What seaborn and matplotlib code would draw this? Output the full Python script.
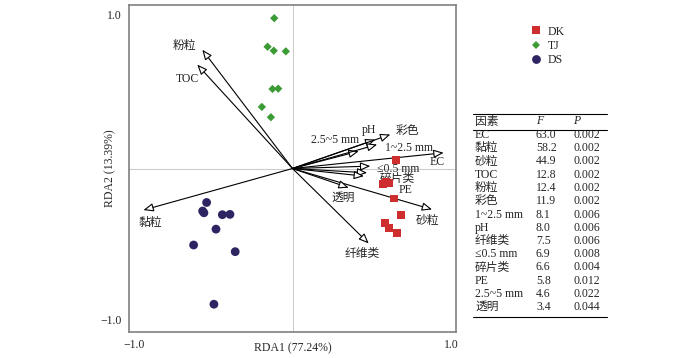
import numpy as np
import pandas as pd
import matplotlib
matplotlib.use('Agg')
import matplotlib.pyplot as plt
import seaborn as sns

sns.set_style('white')
plt.rcParams['font.family'] = ['Liberation Serif', 'Noto Sans CJK SC']
plt.rcParams['axes.unicode_minus'] = True

# sample scores (RDA1, RDA2)
dk_x = [0.654, 0.57, 0.59, 0.61, 0.64, 0.681, 0.585, 0.606, 0.658]
dk_y = [0.052, -0.095, -0.082, -0.09, -0.189, -0.291, -0.342, -0.373, -0.409]
tj_x = [-0.115, -0.157, -0.118, -0.042, -0.126, -0.09, -0.193, -0.136]
tj_y = [0.947, 0.767, 0.742, 0.738, 0.501, 0.503, 0.388, 0.323]
ds_x = [-0.541, -0.566, -0.558, -0.442, -0.394, -0.482, -0.623, -0.361, -0.495]
ds_y = [-0.214, -0.268, -0.279, -0.291, -0.289, -0.382, -0.482, -0.524, -0.855]

# environmental factor arrows
env_names = ['粉粒', 'TOC', '黏粒', 'pH', '彩色', '2.5~5 mm', '1~2.5 mm', 'EC',
             '≤0.5 mm', '碎片类', 'PE', '砂粒', '透明', '纤维类']
env_x = [-0.568, -0.60, -0.939, 0.522, 0.616, 0.417, 0.533, 0.952,
         0.49, 0.47, 0.45, 0.879, 0.354, 0.48]
env_y = [0.748, 0.654, -0.262, 0.182, 0.214, 0.109, 0.151, 0.099,
         0.015, -0.027, -0.048, -0.258, -0.121, -0.472]

# where each arrow label sits
label_pos = [(-0.68, 0.774), (-0.66, 0.566), (-0.893, -0.34), (0.484, 0.245),
             (0.723, 0.239), (0.27, 0.182), (0.736, 0.132), (0.912, 0.038),
             (0.667, 0.0), (0.66, -0.069), (0.711, -0.138), (0.849, -0.333),
             (0.32, -0.182), (0.44, -0.54)]

# significance table
tab_factor = ['EC', '黏粒', '砂粒', 'TOC', '粉粒', '彩色', '1~2.5 mm', 'pH',
              '纤维类', '≤0.5 mm', '碎片类', 'PE', '2.5~5 mm', '透明']
tab_F = ['63.0', '58.2', '44.9', '12.8', '12.4', '11.9', '8.1', '8.0',
         '7.5', '6.9', '6.6', '5.8', '4.6', '3.4']
tab_P = ['0.002', '0.002', '0.002', '0.002', '0.002', '0.002', '0.006', '0.006',
         '0.006', '0.008', '0.004', '0.012', '0.022', '0.044']

df = pd.concat([
    pd.DataFrame({'RDA1': dk_x, 'RDA2': dk_y, 'group': 'DK'}),
    pd.DataFrame({'RDA1': tj_x, 'RDA2': tj_y, 'group': 'TJ'}),
    pd.DataFrame({'RDA1': ds_x, 'RDA2': ds_y, 'group': 'DS'}),
], ignore_index=True)

colors = {'DK': '#cf2e2e', 'TJ': '#3c9b35', 'DS': '#2d2462'}
markers = {'DK': 's', 'TJ': 'D', 'DS': 'o'}
sizes = {'DK': 32, 'TJ': 18, 'DS': 40}

fig = plt.figure(figsize=(7, 3.58), dpi=100)
ax = fig.add_axes([129/700, 1-332/358, 327/700, 327/358])

fs = 8.5
ax.axhline(0, color='#cccccc', lw=0.8, zorder=0)
ax.axvline(0, color='#cccccc', lw=0.8, zorder=0)

for name, x, y, (lx, ly) in zip(env_names, env_x, env_y, label_pos):
    ax.annotate('', xy=(x, y), xytext=(0, 0),
                arrowprops=dict(arrowstyle='-|>,head_length=0.6,head_width=0.25',
                                fc='white', ec='black', lw=0.8,
                                shrinkA=0, shrinkB=0, mutation_scale=10))
    ax.text(lx, ly, name, ha='center', va='center', fontsize=fs)

sns.scatterplot(data=df, x='RDA1', y='RDA2', hue='group', style='group', size='group',
                palette=colors, markers=markers, sizes=sizes, linewidth=0,
                ax=ax, zorder=3)

ax.set_xlim(-1.03, 1.03)
ax.set_ylim(-1.03, 1.03)
ticks = [-1, -0.5, 0, 0.5, 1]
ax.set_xticks(ticks)
ax.set_yticks(ticks)
ax.set_xticklabels(['\u22121.0', '', '', '', '1.0'], fontsize=fs)
ax.set_yticklabels(['\u22121.0', '', '', '', '1.0'], fontsize=fs)
ylabs = ax.get_yticklabels()
ylabs[0].set_va('bottom')
ylabs[-1].set_va('top')
ax.tick_params(direction='in', length=3, width=0.8, color='#555555', pad=5)
ax.set_xlabel('RDA1 (77.24%)', fontsize=fs)
ax.set_ylabel('RDA2 (13.39%)', fontsize=fs)
ax.xaxis.set_label_coords(0.5, -0.032)
ax.yaxis.set_label_coords(-0.038, 0.5)
for sp in ax.spines.values():
    sp.set_color('#808080')
    sp.set_linewidth(1.2)

sns.move_legend(ax, 'upper left', bbox_to_anchor=(1.205, 0.955), title=None,
                frameon=False, fontsize=fs, borderpad=0, labelspacing=0.2,
                handletextpad=0.4, handlelength=1.2)

# table drawn in figure pixels
def fx(px):
    return px / 700

def fy(py):
    return 1 - py / 358

for yy in [114, 129.5, 317]:
    fig.add_artist(plt.Line2D([fx(473), fx(607)], [fy(yy), fy(yy)],
                              color='black', lw=0.8))
tfs = 8.5
fig.text(fx(475), fy(121.5), '因素', fontsize=tfs, va='center')
fig.text(fx(536), fy(121.5), 'F', fontsize=tfs, va='center', style='italic')
fig.text(fx(573), fy(121.5), 'P', fontsize=tfs, va='center', style='italic')
for i, (a, b, c) in enumerate(zip(tab_factor, tab_F, tab_P)):
    yy = 135 + i * 13.25
    fig.text(fx(475), fy(yy), a, fontsize=tfs, va='center')
    fig.text(fx(536), fy(yy), b, fontsize=tfs, va='center')
    fig.text(fx(573), fy(yy), c, fontsize=tfs, va='center')

fig.savefig('out.png', dpi=100)
